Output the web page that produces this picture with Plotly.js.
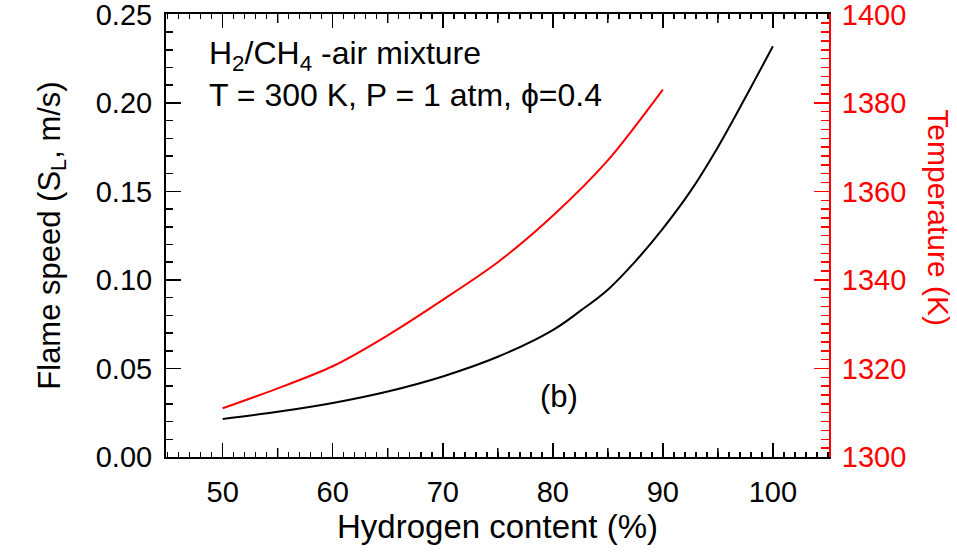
<!DOCTYPE html>
<html>
<head>
<meta charset="utf-8">
<script src="https://cdn.plot.ly/plotly-3.0.1.min.js"></script>
<style>html,body{margin:0;padding:0;background:#fff}#chart{width:957px;height:554px}</style>
</head>
<body>
<div id="chart"></div>
<script>
// Hydrogen content (%) for the flame-speed curve
const hydrogenSpeed = [50, 55, 60, 65, 70, 75, 80, 82.5, 85, 87.5, 90, 92.5, 95, 97.5, 100];
// Flame speed S_L (m/s)
const flameSpeed = [0.0214, 0.0255, 0.0305, 0.037, 0.0455, 0.0566, 0.0717, 0.0825, 0.0945, 0.1105, 0.129, 0.150, 0.175, 0.203, 0.232];
// Hydrogen content (%) for the temperature curve
const hydrogenTemp = [50, 55, 60, 65, 70, 75, 80, 85, 90];
// Adiabatic flame temperature (K)
const temperature = [1311, 1315.5, 1320.5, 1327.5, 1335.5, 1344, 1354.5, 1367, 1383];

const xTicks = [50, 60, 70, 80, 90, 100];
const xHalfTicks = [55, 65, 75, 85, 95];
const yTicks = [0, 0.05, 0.10, 0.15, 0.20, 0.25];
const y2Ticks = [1300, 1320, 1340, 1360, 1380, 1400];

const FONT = 'Liberation Sans, Arial, sans-serif';
const XR = [44.85, 105.1];
const YR = [0, 0.2502];
const Y2R = [1300, 1400.08];

const traces = [
  {x: hydrogenSpeed, y: flameSpeed, type: 'scatter', mode: 'lines', xaxis: 'x', yaxis: 'y',
   line: {color: '#000', width: 2, shape: 'spline', smoothing: 1}, showlegend: false, hoverinfo: 'skip'},
  {x: hydrogenTemp, y: temperature, type: 'scatter', mode: 'lines', xaxis: 'x2', yaxis: 'y2',
   line: {color: '#ff0000', width: 2, shape: 'spline', smoothing: 0.8}, showlegend: false, hoverinfo: 'skip'}
];

// medium tick marks at the 5 % positions (bottom and top edges), built from xHalfTicks
const MED = 9 / 443;
const toPaper = v => (v - XR[0]) / (XR[1] - XR[0]);
const shapes = [];
xHalfTicks.forEach(v => {
  const p = toPaper(v);
  shapes.push({type: 'line', xref: 'paper', yref: 'paper', x0: p, x1: p, y0: 0, y1: MED, line: {color: '#000', width: 1.5}});
  shapes.push({type: 'line', xref: 'paper', yref: 'paper', x0: p, x1: p, y0: 1 - MED, y1: 1, line: {color: '#000', width: 1.5}});
});

const xMinor = {dtick: 1, tick0: 0, ticks: 'inside', ticklen: 5, tickwidth: 1.5, tickcolor: '#000', showgrid: false};

const layout = {
  width: 957, height: 554,
  margin: {l: 166, r: 128, t: 14, b: 97, pad: 0},
  paper_bgcolor: '#fff', plot_bgcolor: '#fff',
  font: {family: FONT, size: 29, color: '#000'},
  showlegend: false,
  xaxis: {
    range: XR, tickvals: xTicks, ticktext: xTicks.map(String),
    ticks: 'inside', ticklen: 14, tickwidth: 1.5, tickcolor: '#000',
    showline: true, linecolor: '#000', linewidth: 2, mirror: false,
    showgrid: false, zeroline: false, minor: xMinor,
    tickfont: {size: 29, color: '#000'},
    ticklabelstandoff: 8, ticklabeloverflow: 'allow',
    title: {text: 'Hydrogen content (%)', font: {size: 33, color: '#000'}, standoff: 8}
  },
  xaxis2: {
    overlaying: 'x', side: 'top', anchor: 'y2', range: XR, tickvals: xTicks,
    ticks: 'inside', ticklen: 14, tickwidth: 1.5, tickcolor: '#000',
    showline: true, linecolor: '#000', linewidth: 2.5,
    showticklabels: false, showgrid: false, zeroline: false, minor: xMinor
  },
  yaxis: {
    range: YR, tickvals: yTicks, ticktext: yTicks.map(v => v.toFixed(2)),
    ticks: 'inside', ticklen: 15, tickwidth: 1.5, tickcolor: '#000',
    showline: true, linecolor: '#000', linewidth: 2, mirror: false,
    showgrid: false, zeroline: false,
    minor: {dtick: 0.01, tick0: 0, ticks: 'inside', ticklen: 7, tickwidth: 1.5, tickcolor: '#000', showgrid: false},
    tickfont: {size: 29, color: '#000'},
    ticklabelstandoff: 6, ticklabeloverflow: 'allow',
    title: {text: 'Flame speed (S<sub>L</sub>, m/s)', font: {size: 31, color: '#000'}, standoff: 26}
  },
  yaxis2: {
    overlaying: 'y', side: 'right', anchor: 'x2', range: Y2R,
    tickvals: y2Ticks, ticktext: y2Ticks.map(String),
    ticks: 'inside', ticklen: 15, tickwidth: 1.5, tickcolor: '#ff0000',
    showline: true, linecolor: '#ff0000', linewidth: 2,
    showgrid: false, zeroline: false,
    minor: {dtick: 2, tick0: 0, ticks: 'inside', ticklen: 8, tickwidth: 1.5, tickcolor: '#ff0000', showgrid: false},
    tickfont: {size: 29, color: '#ff0000'},
    ticklabelstandoff: 5, ticklabeloverflow: 'allow'
  },
  shapes: shapes,
  annotations: [
    {xref: 'paper', yref: 'paper', x: 0.0614, y: 0.956, xanchor: 'left', yanchor: 'top', align: 'left',
     showarrow: false, font: {size: 32, color: '#000', family: FONT},
     text: 'H<sub>2</sub>/CH<sub>4</sub> -air mixture<br>T = 300 K, P = 1 atm, ϕ=0.4'},
    {xref: 'x', yref: 'y', x: 80.6, y: 0.0339, xanchor: 'center', yanchor: 'middle',
     showarrow: false, font: {size: 31, color: '#000', family: FONT}, text: '(b)'},
    {xref: 'paper', yref: 'paper', x: 1.166, y: 0.541, xanchor: 'center', yanchor: 'middle', textangle: 90,
     showarrow: false, font: {size: 30, color: '#ff0000', family: FONT}, text: 'Temperature (K)'}
  ]
};

Plotly.newPlot('chart', traces, layout, {staticPlot: true, displayModeBar: false});
</script>
</body>
</html>
